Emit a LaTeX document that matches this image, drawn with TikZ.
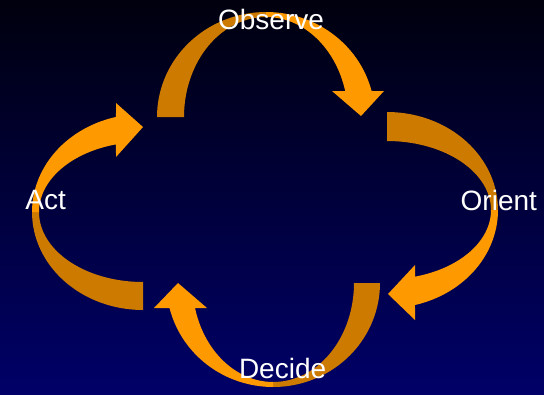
\documentclass[tikz,border=0pt]{standalone}
\usepackage{fontspec}
\setmainfont{Liberation Sans}
\definecolor{bright}{RGB}{255,153,0}
\definecolor{darkor}{RGB}{204,122,0}
\definecolor{bgtop}{RGB}{0,0,14}
\definecolor{bgbot}{RGB}{0,0,104}
\begin{document}
\begin{tikzpicture}[x=1pt,y=-1pt,
  lab/.style={text=white,font=\fontsize{28}{30}\selectfont,anchor=base,inner sep=0pt},
  back/.style={fill=darkor},
  front/.style={fill=bright}]
\shade[top color=bgtop,bottom color=bgbot] (0,0) rectangle (544,394);
\useasboundingbox (0,0) rectangle (544,394);
% Observe arrow (top)
\fill[back] plot[domain=0:90,samples=40] ({266-109*cos(\x)},{117-105*sin(\x)})
  -- plot[domain=90:0,samples=40] ({266-82*cos(\x)},{117-100*sin(\x)}) -- cycle;
\fill[front] plot[domain=90:165.66,samples=40] ({266-109*cos(\x)},{117-105*sin(\x)})
  -- (384,91) -- (361,116) -- (332,91)
  -- plot[domain=164.93:90,samples=40] ({266-82*cos(\x)},{117-100*sin(\x)}) -- cycle;
% Orient arrow (right)
\fill[back] plot[domain=0:90,samples=40] ({387+111*sin(\x)},{210.1-98.1*cos(\x)})
  -- plot[domain=90:0,samples=40] ({387+104*sin(\x)},{210.1-69.1*cos(\x)}) -- cycle;
\fill[front] plot[domain=90:165.39,samples=40] ({387+111*sin(\x)},{210.1-98.1*cos(\x)})
  -- (415,320) -- (388,294) -- (415,265)
  -- plot[domain=164.38:90,samples=40] ({387+104*sin(\x)},{210.1-69.1*cos(\x)}) -- cycle;
% Decide arrow (bottom)
\fill[back] plot[domain=0:90,samples=40] ({273.2+106.8*cos(\x)},{283+104*sin(\x)})
  -- plot[domain=90:0,samples=40] ({273.2+80.8*cos(\x)},{283+99*sin(\x)}) -- cycle;
\fill[front] plot[domain=90:166.09,samples=40] ({273.2+106.8*cos(\x)},{283+104*sin(\x)})
  -- (154,308) -- (178,283) -- (207,308)
  -- plot[domain=165.37:90,samples=40] ({273.2+80.8*cos(\x)},{283+99*sin(\x)}) -- cycle;
% Act arrow (left)
\fill[back] plot[domain=0:90,samples=40] ({143-111*sin(\x)},{212+98*cos(\x)})
  -- plot[domain=90:0,samples=40] ({143-104*sin(\x)},{212+70*cos(\x)}) -- cycle;
\fill[front] plot[domain=90:165.92,samples=40] ({143-111*sin(\x)},{212+98*cos(\x)})
  -- (116,103) -- (143,127) -- (116,157)
  -- plot[domain=164.95:90,samples=40] ({143-104*sin(\x)},{212+70*cos(\x)}) -- cycle;
% labels
\node[lab] (observe) at (271,29.5) {Observe};
\node[lab] (orient) at (498.8,210) {Orient};
\node[lab] (act) at (45.7,209) {Act};
\node[lab] (decide) at (282.6,378) {Decide};
\end{tikzpicture}
\end{document}
